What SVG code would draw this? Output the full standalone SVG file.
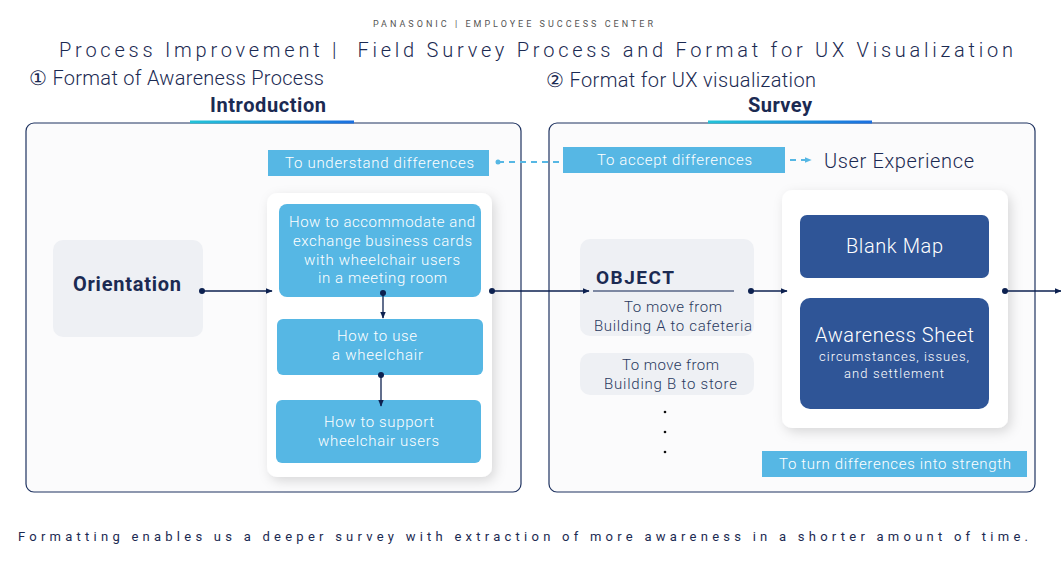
<svg xmlns="http://www.w3.org/2000/svg" width="1061" height="573" viewBox="0 0 1061 573">
<style>
.t{font-family:Roboto,"Noto Sans",sans-serif;}
.nav{fill:#1b2a52;}
.wt{fill:#ffffff;font-family:Roboto,"Noto Sans",sans-serif;font-size:15px;font-weight:300;text-anchor:middle;}
.gt{fill:#2a3a60;font-family:Roboto,"Noto Sans",sans-serif;font-size:15px;font-weight:300;text-anchor:middle;}
.lt{font-weight:300;}
.lb{fill:#56b7e4;}
.db{fill:#2f5597;}
.gray{fill:#eef0f4;}
.panel{fill:#fbfbfc;stroke:#1e3260;stroke-width:1.2;}
.card{fill:#ffffff;filter:url(#sh);}
.ln{stroke:#0d2150;stroke-width:1.3;fill:none;}
.dash{stroke:#56b7e4;stroke-width:2;stroke-dasharray:6 5;fill:none;}
.dot{fill:#0d2150;}
</style>
<defs>
<linearGradient id="ug" x1="0" x2="1" y1="0" y2="0">
<stop offset="0" stop-color="#22c3d8"/>
<stop offset="1" stop-color="#1a6fe0"/>
</linearGradient>
<filter id="sh" x="-20%" y="-20%" width="140%" height="140%">
<feDropShadow dx="3" dy="4" stdDeviation="6" flood-color="#000" flood-opacity="0.14"/>
</filter>
<marker id="ah" viewBox="0 0 10 10" refX="9" refY="5" markerWidth="7" markerHeight="7" orient="auto" markerUnits="userSpaceOnUse">
<path d="M0,1 L10,5 L0,9 z" fill="#0d2150"/>
</marker>
<marker id="ahb" viewBox="0 0 10 10" refX="9" refY="5" markerWidth="7" markerHeight="7" orient="auto" markerUnits="userSpaceOnUse">
<path d="M0,1 L10,5 L0,9 z" fill="#56b7e4"/>
</marker>
</defs>
<rect width="1061" height="573" fill="#ffffff"/>

<g id="header" class="t">
<text x="373" y="27" font-size="9" fill="#555" textLength="280" lengthAdjust="spacing">PANASONIC | EMPLOYEE SUCCESS CENTER</text>
<text x="59" y="57" font-size="20" class="nav lt" textLength="954" lengthAdjust="spacing" xml:space="preserve">Process Improvement |  Field Survey Process and Format for UX Visualization</text>
<text x="29" y="85" font-size="20" class="nav lt" textLength="295" lengthAdjust="spacing">① Format of Awareness Process</text>
<text x="546" y="87" font-size="20" class="nav lt" textLength="270" lengthAdjust="spacing">② Format for UX visualization</text>
<text x="210" y="112" font-size="20" font-weight="bold" class="nav" textLength="116" lengthAdjust="spacing">Introduction</text>
<text x="748" y="112" font-size="20" font-weight="bold" class="nav" textLength="64" lengthAdjust="spacing">Survey</text>
</g>

<g id="panel-intro">
<rect x="26" y="123" width="495" height="369" rx="8" class="panel"/>
<rect x="190" y="120.5" width="164" height="3" fill="url(#ug)"/>
</g>
<g id="panel-survey">
<rect x="549" y="123" width="486" height="369" rx="8" class="panel"/>
<rect x="708" y="120.5" width="164" height="3" fill="url(#ug)"/>
</g>

<g id="understand">
<rect x="268" y="150" width="221" height="26" class="lb"/>
<text x="379.5" y="168" class="wt" textLength="189" lengthAdjust="spacing">To understand differences</text>
</g>
<g id="accept">
<rect x="563" y="147" width="222" height="26" class="lb"/>
<text x="674.5" y="165" class="wt" textLength="155" lengthAdjust="spacing">To accept differences</text>
</g>
<g id="ux">
<text x="824" y="168" font-size="20" class="t nav lt" textLength="150" lengthAdjust="spacing">User Experience</text>
</g>

<g id="orientation">
<rect x="53" y="240" width="150" height="97" rx="10" class="gray"/>
<text x="73" y="291" font-size="20" font-weight="bold" class="t nav" textLength="108" lengthAdjust="spacing">Orientation</text>
</g>

<g id="intro-card">
<rect x="267" y="193" width="225" height="284" rx="10" class="card"/>
</g>
<g id="accommodate">
<rect x="279" y="204" width="202" height="93" rx="8" class="lb"/>
<text class="wt" x="382" y="227" textLength="186" lengthAdjust="spacing">How to accommodate and</text>
<text class="wt" x="382.5" y="246" textLength="179" lengthAdjust="spacing">exchange business cards</text>
<text class="wt" x="382" y="265" textLength="156" lengthAdjust="spacing">with wheelchair users</text>
<text class="wt" x="382.5" y="283" textLength="129" lengthAdjust="spacing">in a meeting room</text>
</g>
<g id="use-wheelchair">
<rect x="277" y="319" width="206" height="56" rx="6" class="lb"/>
<text class="wt" x="377" y="341" textLength="80" lengthAdjust="spacing">How to use</text>
<text class="wt" x="377.5" y="360" textLength="91" lengthAdjust="spacing">a wheelchair</text>
</g>
<g id="support">
<rect x="276" y="400" width="205" height="63" rx="6" class="lb"/>
<text class="wt" x="379" y="427" textLength="110" lengthAdjust="spacing">How to support</text>
<text class="wt" x="378.5" y="446" textLength="121" lengthAdjust="spacing">wheelchair users</text>
</g>

<g id="object">
<rect x="580" y="239" width="174" height="97" rx="10" class="gray"/>
<text x="596" y="284" font-size="19" font-weight="bold" class="t nav" textLength="78" lengthAdjust="spacing">OBJECT</text>
<line x1="593" y1="291" x2="734" y2="291" stroke="#0d2150" stroke-width="1.2"/>
<text x="673" y="312" class="gt" textLength="98" lengthAdjust="spacing">To move from</text>
<text x="673" y="331" class="gt" textLength="158" lengthAdjust="spacing">Building A to cafeteria</text>
</g>
<g id="object-b">
<rect x="580" y="353" width="174" height="42" rx="10" class="gray"/>
<text x="670.5" y="370" class="gt" textLength="97" lengthAdjust="spacing">To move from</text>
<text x="670.5" y="389" class="gt" textLength="133" lengthAdjust="spacing">Building B to store</text>
</g>
<g id="ellipsis">
<circle cx="665" cy="412" r="1.3" fill="#111"/>
<circle cx="665" cy="432" r="1.3" fill="#111"/>
<circle cx="665" cy="452" r="1.3" fill="#111"/>
</g>

<g id="survey-card">
<rect x="782" y="190" width="226" height="238" rx="10" class="card"/>
</g>
<g id="blank-map">
<rect x="800" y="215" width="189" height="63" rx="7" class="db"/>
<text x="894.5" y="253" font-size="20" fill="#fff" text-anchor="middle" class="t lt" textLength="97" lengthAdjust="spacing">Blank Map</text>
</g>
<g id="awareness-sheet">
<rect x="800" y="298" width="189" height="111" rx="10" class="db"/>
<text x="894.5" y="342" font-size="20" fill="#fff" text-anchor="middle" class="t lt" textLength="159" lengthAdjust="spacing">Awareness Sheet</text>
<text x="894" y="361" font-size="13" fill="#fff" text-anchor="middle" class="t lt" textLength="150" lengthAdjust="spacing">circumstances, issues,</text>
<text x="894" y="378" font-size="13" fill="#fff" text-anchor="middle" class="t lt" textLength="100" lengthAdjust="spacing">and settlement</text>
</g>

<g id="strength">
<rect x="762" y="451" width="265" height="26" class="lb"/>
<text x="895" y="469" class="wt" textLength="232" lengthAdjust="spacing">To turn differences into strength</text>
</g>

<g id="connectors">
<line x1="202" y1="291" x2="272" y2="291" class="ln" marker-end="url(#ah)"/>
<circle cx="202" cy="291" r="3" class="dot"/>
<line x1="383" y1="293" x2="383" y2="318" class="ln" marker-end="url(#ah)"/>
<circle cx="383" cy="293" r="3" class="dot"/>
<line x1="381" y1="375" x2="381" y2="406" class="ln" marker-end="url(#ah)"/>
<circle cx="381" cy="375" r="3" class="dot"/>
<line x1="492" y1="291" x2="589" y2="291" class="ln" marker-end="url(#ah)"/>
<circle cx="492" cy="291" r="3" class="dot"/>
<line x1="751" y1="291" x2="787" y2="291" class="ln" marker-end="url(#ah)"/>
<circle cx="751" cy="291" r="3" class="dot"/>
<line x1="1005" y1="291" x2="1061" y2="291" class="ln" marker-end="url(#ah)"/>
<circle cx="1005" cy="291" r="3" class="dot"/>
<line x1="498" y1="162" x2="563" y2="162" class="dash"/>
<circle cx="498" cy="162" r="2.5" fill="#56b7e4"/>
<line x1="790" y1="160" x2="811" y2="160" class="dash" stroke-dasharray="5 4" marker-end="url(#ahb)"/>
</g>

<g id="footer">
<text x="18" y="541" font-size="13" class="t" fill="#1b2a52" textLength="1010" lengthAdjust="spacing">Formatting enables us a deeper survey with extraction of more awareness in a shorter amount of time.</text>
</g>
</svg>
